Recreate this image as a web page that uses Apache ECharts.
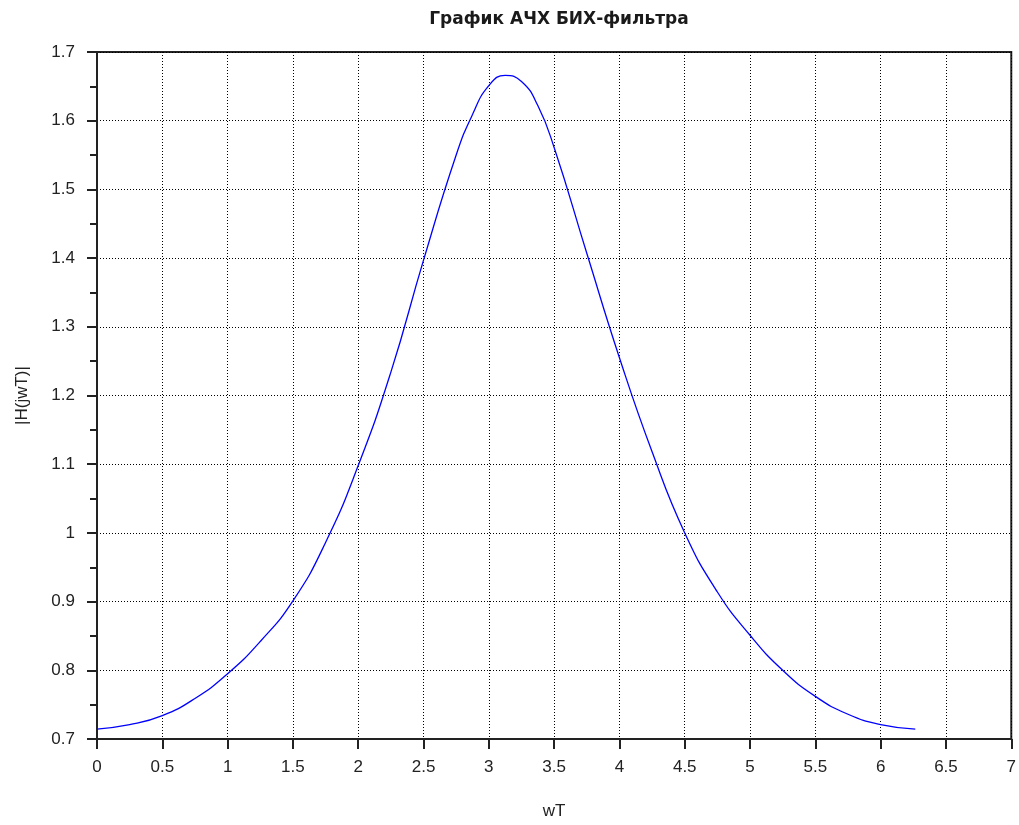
<!DOCTYPE html>
<html>
<head>
<meta charset="utf-8">
<script src="https://cdn.jsdelivr.net/npm/echarts@6/dist/echarts.min.js"></script>
<style>
    html, body { margin: 0; padding: 0; background: #ffffff; }
    #chart { width: 1019px; height: 825px; }
</style>
</head>
<body>
<div id="chart"></div>
<script>
// values
let wT = [0, 0.25, 0.5, 0.75, 1.0, 1.25, 1.5, 1.75, 2.0, 2.25, 2.5, 2.75,
    2.875, 3.0, 3.125, 3.25, 3.375, 3.5, 3.75, 4.0, 4.25, 4.5, 4.75,
    5.0, 5.25, 5.5, 5.75, 6.0, 6.265];
let magnitude = [0.7145, 0.7208, 0.734, 0.759, 0.795, 0.842, 0.901, 0.986, 1.098, 1.234, 1.397, 1.55,
    1.609, 1.651, 1.666, 1.657, 1.622, 1.561, 1.407, 1.255, 1.118, 1.0, 0.914,
    0.851, 0.8, 0.762, 0.736, 0.721, 0.7145];

let chartTitle = 'График АЧХ БИХ-фильтра';
let xName = 'wT';
let yName = '|H(jwT)|';

let fontFamily = '"Liberation Sans", Arial, sans-serif';
let axisColor = '#222222';

const chart = echarts.init(document.getElementById('chart'));

let points = wT.map(function (x, i) {
    return [x, magnitude[i]];
});

chart.setOption({
    animation: false,
    title: {
        text: chartTitle,
        left: 554,
        top: 6,
        textAlign: 'center',
        textStyle: {
            fontFamily: '"DejaVu Sans", sans-serif',
            fontSize: 17,
            fontWeight: 'bold',
            color: '#1a1a1a'
        }
    },
    grid: {
        left: 97,
        right: 7,
        top: 52,
        bottom: 83,
        show: true,
        borderColor: axisColor,
        borderWidth: 2
    },
    xAxis: {
        type: 'value',
        min: 0,
        max: 7,
        interval: 0.5,
        name: xName,
        nameLocation: 'middle',
        nameGap: 64,
        nameTextStyle: { fontFamily: fontFamily, fontSize: 17, color: '#222' },
        axisLine: { lineStyle: { color: axisColor, width: 2 } },
        axisTick: { length: 10, lineStyle: { color: axisColor, width: 2 } },
        axisLabel: { margin: 20, fontFamily: fontFamily, fontSize: 17, color: '#222' },
        splitLine: { lineStyle: { color: '#000', width: 1, type: [1, 2] } }
    },
    yAxis: {
        type: 'value',
        min: 0.7,
        max: 1.7,
        interval: 0.1,
        name: yName,
        nameLocation: 'middle',
        nameGap: 66,
        nameTextStyle: { fontFamily: fontFamily, fontSize: 17, color: '#222' },
        axisLine: { lineStyle: { color: axisColor, width: 2 } },
        axisTick: { length: 10, lineStyle: { color: axisColor, width: 2 } },
        minorTick: { show: true, splitNumber: 2, length: 7, lineStyle: { color: axisColor, width: 2 } },
        axisLabel: { margin: 22, fontFamily: fontFamily, fontSize: 17, color: '#222' },
        splitLine: { lineStyle: { color: '#000', width: 1, type: [1, 2] } }
    },
    series: [{
        type: 'line',
        data: points,
        showSymbol: false,
        smooth: 0.5,
        lineStyle: { color: '#0000ff', width: 1.3 }
    }]
});
</script>
</body>
</html>
